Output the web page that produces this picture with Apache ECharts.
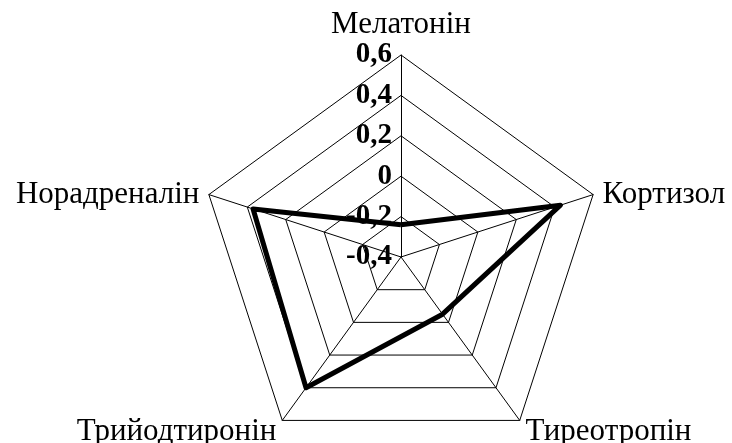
<!DOCTYPE html>
<html>
<head>
<meta charset="utf-8">
<script src="https://cdn.jsdelivr.net/npm/echarts@6/dist/echarts.min.js"></script>
<style>
  html, body { margin: 0; padding: 0; background: #fff; }
  #chart { width: 732px; height: 443px; }
</style>
</head>
<body>
<div id="chart"></div>
<script>
// показники, по годинниковій стрілці від верху
const categories = ['Мелатонін', 'Кортизол', 'Тиреотропін', 'Трийодтиронін', 'Норадреналін']
const values = [-0.24, 0.43, -0.05, 0.40, 0.37]
const tickMin = -0.4
const tickMax = 0.6
const tickStep = 0.2

// ECharts іде проти годинникової стрілки, тож перший лишаємо, решту розвертаємо
const order = [0, 4, 3, 2, 1]

const chart = echarts.init(document.getElementById('chart'), null, { renderer: 'canvas' })

const center = [401, 257]
const radius = 202

const fmt = v => {
  const s = (Math.round(v * 10) / 10).toFixed(1)
  return s === '0.0' || s === '-0.0' ? '0' : s.replace('.', ',')
}

const nameFont = { color: '#000', fontFamily: 'Liberation Serif', fontSize: 31 }

chart.setOption({
  backgroundColor: '#fff',
  animation: false,
  radar: {
    center: center,
    radius: radius,
    startAngle: 90,
    shape: 'polygon',
    splitNumber: 5,
    indicator: order.map(i => ({ name: categories[i], min: tickMin, max: tickMax })),
    nameGap: 10,
    axisName: {
      ...nameFont,
      formatter: name => (name === categories[0] ? '{t|' + name + '}' : '{s|' + name + '}'),
      rich: {
        t: { ...nameFont, padding: [0, 0, 5, 0] },
        s: { ...nameFont, padding: [6, 0, 0, 0] }
      }
    },
    axisLine: { lineStyle: { color: '#000', width: 1 } },
    splitLine: { lineStyle: { color: '#000', width: 1 } },
    splitArea: { show: false },
    axisTick: { show: false },
    axisLabel: { show: false }
  },
  // вісь значень поверх вертикальної осі радара — лише підписи
  grid: { left: center[0], top: center[1] - radius, height: radius, width: 1 },
  xAxis: { type: 'value', show: false },
  yAxis: {
    type: 'value',
    min: tickMin,
    max: tickMax,
    interval: tickStep,
    axisLine: { show: false },
    axisTick: { show: false },
    splitLine: { show: false },
    axisLabel: {
      margin: 9,
      color: '#000',
      fontFamily: 'Liberation Serif',
      fontWeight: 'bold',
      fontSize: 29,
      formatter: fmt
    }
  },
  series: [{
    type: 'radar',
    symbol: 'none',
    lineStyle: { color: '#000', width: 5 },
    data: [{ value: order.map(i => values[i]) }]
  }]
})
</script>
</body>
</html>
